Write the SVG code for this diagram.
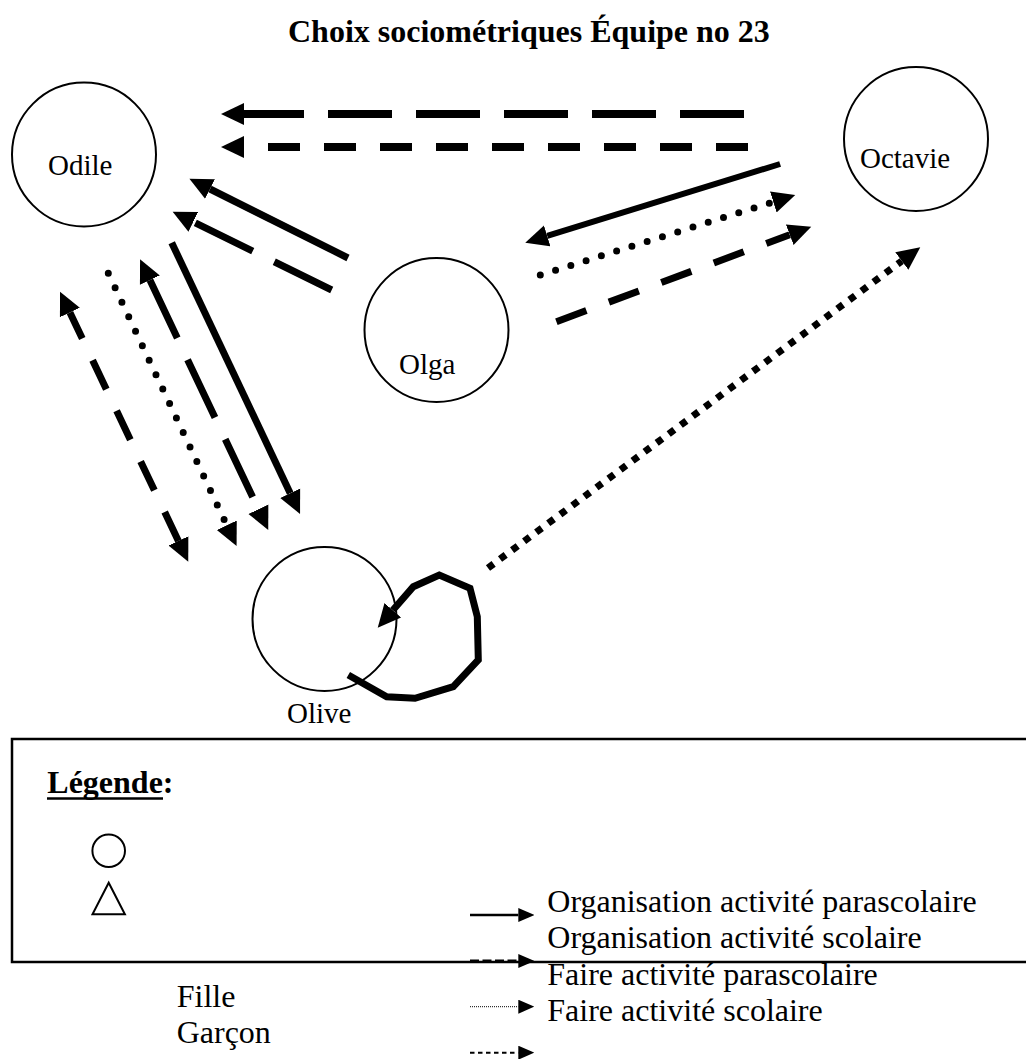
<svg xmlns="http://www.w3.org/2000/svg" width="1026" height="1059" viewBox="0 0 1026 1059">
<style>
text{font-family:"Liberation Serif","Times New Roman",serif;fill:#000}
.title{font-size:32px;font-weight:bold}
.lbl{font-size:29px}
.leg{font-size:32px}
.node{fill:#fff;stroke:#000;stroke-width:2}
.c{fill:none;stroke:#000;stroke-width:7;stroke-linecap:butt}
.ld{stroke-dasharray:64 24}
.md{stroke-dasharray:32 24}
.dot{stroke-linecap:round;stroke-dasharray:0 16}
.sq{stroke-dasharray:7 8}
.ls{fill:none;stroke:#000}
</style>
<defs>
<marker id="ah" markerUnits="userSpaceOnUse" viewBox="0 0 24 24" refX="0" refY="12" markerWidth="24" markerHeight="24" orient="auto-start-reverse">
<path d="M0,1 L23,12 L0,23 z" fill="#000"/>
</marker>
<marker id="ahs" markerUnits="userSpaceOnUse" viewBox="0 0 16 14" refX="0" refY="7" markerWidth="16" markerHeight="14" orient="auto">
<path d="M0,0 L16,7 L0,14 z" fill="#000"/>
</marker>
</defs>
<rect width="1026" height="1059" fill="#fff"/>
<text class="title" x="288" y="42">Choix sociométriques Équipe no 23</text>

<g id="odile"><circle class="node" cx="84" cy="154.5" r="72"/><text class="lbl" x="48" y="175">Odile</text></g>
<g id="octavie"><circle class="node" cx="916" cy="139" r="72"/><text class="lbl" x="860" y="168">Octavie</text></g>
<g id="olga"><circle class="node" cx="436.5" cy="330" r="72"/><text class="lbl" x="399" y="374">Olga</text></g>
<g id="olive"><circle class="node" cx="324.5" cy="619" r="72"/><text class="lbl" x="287" y="723">Olive</text></g>

<g id="connectors">
<line class="c ld" style="stroke-width:8" x1="744" y1="114" x2="244" y2="114" marker-end="url(#ah)"/>
<line class="c md" style="stroke-width:8" x1="748" y1="147" x2="244" y2="147" marker-end="url(#ah)"/>
<line class="c" x1="348" y1="258" x2="210" y2="189" marker-end="url(#ah)"/>
<line class="c ld" x1="331.7" y1="290" x2="193.3" y2="221.9" marker-end="url(#ah)"/>
<line class="c md" x1="178.4" y1="540.9" x2="69.9" y2="312.5" marker-start="url(#ah)" marker-end="url(#ah)"/>
<line class="c dot" x1="108.3" y1="273.3" x2="226.8" y2="525.2" marker-end="url(#ah)"/>
<line class="c ld" x1="149.9" y1="280.1" x2="258.4" y2="509.2" marker-start="url(#ah)" marker-end="url(#ah)"/>
<line class="c" x1="171.7" y1="242.7" x2="290.2" y2="493.2" marker-end="url(#ah)"/>
<line class="c" style="stroke-width:6" x1="780.1" y1="164" x2="547.2" y2="235.9" marker-end="url(#ah)"/>
<line class="c dot" x1="540.3" y1="275" x2="773.3" y2="201.9" marker-end="url(#ah)"/>
<line class="c md" x1="556.4" y1="321.7" x2="789.7" y2="234.7" marker-end="url(#ah)"/>
<line class="c sq" x1="488" y1="568" x2="901.8" y2="261" marker-end="url(#ah)"/>
<polyline class="c" stroke-linejoin="miter" points="348.3,675 386.7,696.7 415,698.3 453.3,686.7 478.3,660 477.3,616.7 470,588.3 439.3,575 413.3,586.7 392.8,610.3" marker-end="url(#ah)"/>
</g>

<g id="legend">
<rect x="12" y="739" width="1030" height="223" fill="none" stroke="#000" stroke-width="2.5"/>
<text class="leg" x="47.3" y="793" font-weight="bold">Légende:</text>
<line x1="47" y1="798.5" x2="163" y2="798.5" stroke="#000" stroke-width="2.5"/>
<circle cx="108.7" cy="850.7" r="16.3" fill="none" stroke="#000" stroke-width="2"/>
<polygon points="108.7,882.7 92.5,914.3 124.9,914.3" fill="none" stroke="#000" stroke-width="2"/>
<line class="ls" stroke-width="2.5" x1="470" y1="915" x2="518.3" y2="915" marker-end="url(#ahs)"/>
<line class="ls" stroke-width="3" stroke-dasharray="9 3.5" x1="470" y1="961" x2="518.3" y2="961" marker-end="url(#ahs)"/>
<line class="ls" stroke-width="1" stroke-dasharray="1 1" x1="470" y1="1006.7" x2="518.3" y2="1006.7" marker-end="url(#ahs)"/>
<line class="ls" stroke-width="2" stroke-dasharray="4.5 3.5" x1="470" y1="1052.7" x2="518.3" y2="1052.7" marker-end="url(#ahs)"/>
<text class="leg" x="547.3" y="911.7">Organisation activité parascolaire</text>
<text class="leg" x="547.3" y="948.3">Organisation activité scolaire</text>
<text class="leg" x="547.3" y="985">Faire activité parascolaire</text>
<text class="leg" x="547.3" y="1020.5">Faire activité scolaire</text>
<text class="leg" x="176.7" y="1006.7">Fille</text>
<text class="leg" x="176.7" y="1043.3">Garçon</text>
</g>
</svg>
